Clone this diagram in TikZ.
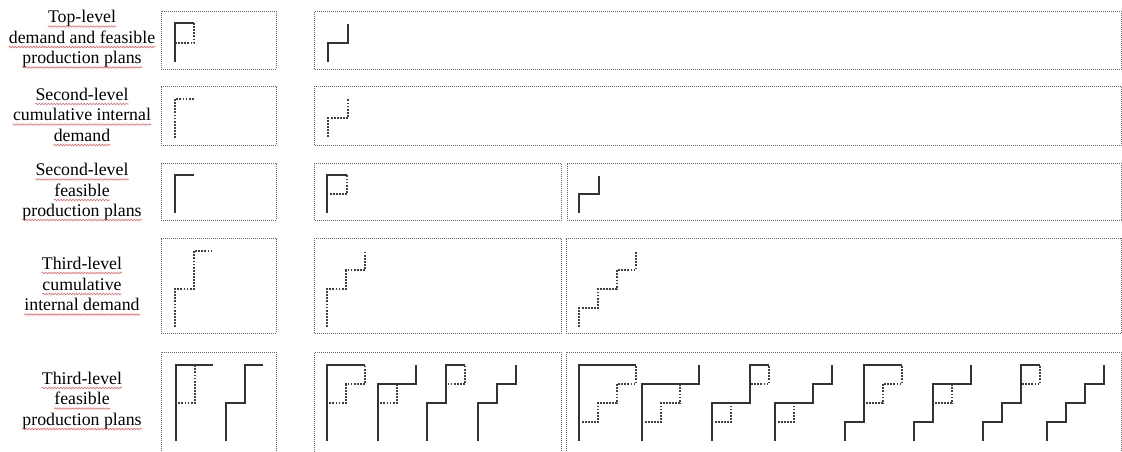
\documentclass[tikz,border=0pt]{standalone}
\usepackage{fontspec}
\setmainfont{Liberation Serif}
\usetikzlibrary{decorations.pathmorphing}
\newcommand\DemTwo[1]{\draw[dem,shift={#1}] (0,0)--(0,-38)--(19,-38)--(19,-76)--(37,-76);}
\newcommand\DemThree[1]{\draw[dem,shift={#1}] (0,0)--(0,-38)--(19,-38)--(19,-57)--(38,-57)--(38,-76);}
\newcommand\DemFour[1]{\draw[dem,shift={#1}] (0,0)--(0,-19)--(19,-19)--(19,-38)--(38,-38)--(38,-57)--(57,-57)--(57,-76);}
\begin{document}
\begin{tikzpicture}[x=1pt,y=-1pt,
  box/.style={draw=black!60, line width=0.9pt, dash pattern=on 0.9pt off 1.1pt, inner sep=0pt, outer sep=0pt, anchor=north west},
  plan/.style={draw=black!80, line width=2.2pt},
  dem/.style={draw=black!75, line width=1.8pt, dash pattern=on 1.8pt off 1.3pt},
  lab/.style={font=\fontsize{17.8}{20.5}\selectfont, inner sep=0pt, anchor=base},
  squig/.style={draw=red!65, line width=0.6pt, decorate, decoration={snake, segment length=3pt, amplitude=0.7pt}}]
\useasboundingbox (0,0) rectangle (1122,451);
\clip (0,0) rectangle (1122,451);
\fill[white] (0,0) rectangle (1122,451);

% ---- boxes
\node[box, minimum width=115pt, minimum height=58pt] (b1a) at (161,11) {};
\node[box, minimum width=806.5pt, minimum height=58pt] (b1b) at (314.5,11) {};
\node[box, minimum width=115pt, minimum height=59pt] (b2a) at (161,86) {};
\node[box, minimum width=806.5pt, minimum height=59pt] (b2b) at (314.5,86) {};
\node[box, minimum width=115pt, minimum height=57pt] (b3a) at (161,163) {};
\node[box, minimum width=246.5pt, minimum height=57pt] (b3b) at (314.5,163) {};
\node[box, minimum width=554pt, minimum height=57pt] (b3c) at (567,163) {};
\node[box, minimum width=115pt, minimum height=95pt] (b4a) at (161,238) {};
\node[box, minimum width=246.5pt, minimum height=95pt] (b4b) at (314.5,238) {};
\node[box, minimum width=555pt, minimum height=95pt] (b4c) at (566,238.5) {};
\node[box, minimum width=115pt, minimum height=110pt] (b5a) at (161,352) {};
\node[box, minimum width=246.5pt, minimum height=110pt] (b5b) at (314.5,352) {};
\node[box, minimum width=555pt, minimum height=110pt] (b5c) at (566,352) {};

% ---- labels
\node[lab] (l11) at (82,22.5) {Top-level};
\node[lab] (l12) at (82,43) {demand and feasible};
\node[lab] (l13) at (82,63.5) {production plans};
\node[lab] (l21) at (82,100) {Second-level};
\node[lab] (l22) at (82,120.5) {cumulative internal};
\node[lab] (l23) at (82,141) {demand};
\node[lab] (l31) at (82,175.5) {Second-level};
\node[lab] (l32) at (82,196) {feasible};
\node[lab] (l33) at (82,216) {production plans};
\node[lab] (l41) at (82,269) {Third-level};
\node[lab] (l42) at (82,290) {cumulative};
\node[lab] (l43) at (82,310.5) {internal demand};
\node[lab] (l51) at (82,384) {Third-level};
\node[lab] (l52) at (82,404.5) {feasible};
\node[lab] (l53) at (82,425) {production plans};
\foreach \n in {l11,l12,l13,l21,l22,l23,l31,l32,l33,l41,l42,l43,l51,l52,l53}
  \draw[squig] ([yshift=-4pt]\n.base west) -- ([yshift=-4pt]\n.base east);

% ---- row 1
\draw[dem,shift={(175,62)}] (19,-39)--(19,-19)--(0,-19);
\draw[plan,shift={(175,62)}] (0,0)--(0,-39)--(19,-39);
\draw[plan,shift={(328,62)}] (0,0)--(0,-19)--(20,-19)--(20,-38);

% ---- row 2
\draw[dem,shift={(175,138)}] (0,0)--(0,-39)--(19,-39);
\draw[dem,shift={(328,137)}] (0,0)--(0,-19)--(20,-19)--(20,-38);

% ---- row 3
\draw[plan,shift={(175,213)}] (0,0)--(0,-38)--(19,-38);
\draw[dem,shift={(327,213)}] (0,0)--(0,-19)--(20,-19)--(20,-38);
\draw[plan,shift={(327,213)}] (0,0)--(0,-38)--(20,-38);
\draw[plan,shift={(579,213)}] (0,0)--(0,-19)--(20,-19)--(20,-37);

% ---- row 4
\DemTwo{(175,327)}
\DemThree{(327,327)}
\DemFour{(579,327)}

% ---- row 5 left
\DemTwo{(176,441)}
\draw[plan,shift={(176,441)}] (0,0)--(0,-76)--(37,-76);
\draw[plan,shift={(226,441)}] (0,0)--(0,-38)--(19,-38)--(19,-76)--(37,-76);

% ---- row 5 middle
\DemThree{(327,441)}
\draw[plan,shift={(327,441)}] (0,0)--(0,-76)--(38,-76);
\DemThree{(378,441)}
\draw[plan,shift={(378,441)}] (0,0)--(0,-57)--(38,-57)--(38,-76);
\DemThree{(427,441)}
\draw[plan,shift={(427,441)}] (0,0)--(0,-38)--(19,-38)--(19,-76)--(38,-76);
\draw[plan,shift={(478,441)}] (0,0)--(0,-38)--(19,-38)--(19,-57)--(38,-57)--(38,-76);

% ---- row 5 right
\DemFour{(579,441)}
\draw[plan,shift={(579,441)}] (0,0)--(0,-76)--(57,-76);
\DemFour{(642,441)}
\draw[plan,shift={(642,441)}] (0,0)--(0,-57)--(57,-57)--(57,-76);
\DemFour{(712,441)}
\draw[plan,shift={(712,441)}] (0,0)--(0,-38)--(38,-38)--(38,-76)--(57,-76);
\DemFour{(775,441)}
\draw[plan,shift={(775,441)}] (0,0)--(0,-38)--(38,-38)--(38,-57)--(57,-57)--(57,-76);
\DemFour{(845,441)}
\draw[plan,shift={(845,441)}] (0,0)--(0,-19)--(19,-19)--(19,-76)--(57,-76);
\DemFour{(914,441)}
\draw[plan,shift={(914,441)}] (0,0)--(0,-19)--(19,-19)--(19,-57)--(57,-57)--(57,-76);
\DemFour{(983,441)}
\draw[plan,shift={(983,441)}] (0,0)--(0,-19)--(19,-19)--(19,-38)--(38,-38)--(38,-76)--(57,-76);
\draw[plan,shift={(1047,441)}] (0,0)--(0,-19)--(19,-19)--(19,-38)--(38,-38)--(38,-57)--(57,-57)--(57,-76);
\end{tikzpicture}
\end{document}
